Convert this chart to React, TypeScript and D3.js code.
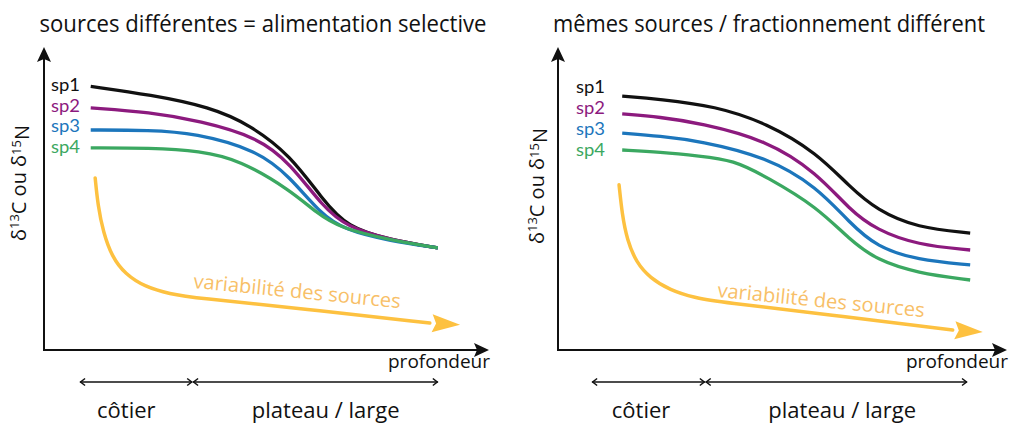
import React from "react";
import * as d3 from "d3";

// species and colours
const species = ["sp1", "sp2", "sp3", "sp4"];
const speciesColors = ["#111111", "#8c1a7e", "#1c76bc", "#3ba861"];

// isotope value (0-100) along depth (0-100)
const leftSp1 = [[10.5, 87], [24, 84.2], [37.3, 80.2], [46.3, 74.3], [55.3, 64.4], [62.7, 49.5], [68.1, 40.6], [77.8, 36.3], [88.5, 33.7]];
const leftSp2 = [[10.5, 79.9], [23.8, 78.5], [35.1, 75.6], [47.9, 70.3], [55.3, 61.7], [62.7, 47.2], [68.1, 40.6], [77.8, 36.3], [88.5, 33.7]];
const leftSp3 = [[10.5, 72.6], [23.8, 72.6], [33.9, 71.6], [47.9, 66], [55.3, 57.1], [62, 45.2], [67.6, 39.6], [77.8, 36], [88.5, 33.7]];
const leftSp4 = [[10.5, 66.7], [23.8, 66.7], [35.1, 65.7], [44, 62.7], [55.3, 52.8], [61.3, 45.2], [66.5, 40.3], [77.8, 36.3], [88.5, 33.7]];

const rightSp1 = [[14.3, 83.8], [22.7, 82.8], [35, 80.5], [46.5, 74.9], [57.7, 65], [65, 53.8], [71, 46.2], [80, 40.3], [91.8, 38.6]];
const rightSp2 = [[14.3, 77.9], [22.7, 76.9], [31.6, 74.9], [46.5, 69.3], [57.7, 58.4], [65, 46.2], [71, 39.6], [80, 34.7], [91.8, 33]];
const rightSp3 = [[14.3, 71.6], [22.7, 70.6], [31.6, 69], [46.5, 63.7], [57.7, 53.8], [65, 41.9], [71, 34], [80, 29.7], [91.8, 28.1]];
const rightSp4 = [[14.3, 66], [22.7, 65.3], [31.6, 64], [39, 62.7], [46.5, 57.1], [57.7, 47.2], [65, 36.3], [71, 29.7], [80, 25.4], [91.8, 23.1]];

// source variability arrow
const leftSources = [[11.5, 56.8], [12.1, 47.9], [13.3, 38.9], [15.3, 30.7], [18.2, 25.1], [22.7, 20.8], [28.3, 18.5], [33.9, 17.2], [58.7, 13.5], [86.7, 8.9]];
const leftSourcesTip = [93.5, 8.3];
const rightSources = [[13.6, 54.5], [14.3, 44.6], [15.4, 36.3], [17.4, 29], [20.5, 23.8], [24.9, 19.8], [30.5, 17.2], [36.1, 15.8], [60.6, 11.6], [87.9, 6.6]];
const rightSourcesTip = [94.6, 5.9];

// depth zones
const zoneLabels = ["côtier", "plateau / large"];
const leftZones = [[8.1, 33.3], [33.5, 88.5]];
const rightZones = [[7.6, 32.7], [32.9, 91.1]];
const zoneLabelX = [18.5, 63.3];

const FONT = "'Open Sans', 'Noto Sans', sans-serif";
const LABEL_FONT = "Lato, 'Open Sans', sans-serif";
const axisY = 350;
const axisTop = 47;

const panels = [
  {
    title: "sources différentes = alimentation selective",
    titleX: 263, titleLen: 447,
    x0: 44, w: 445,
    lines: [leftSp1, leftSp2, leftSp3, leftSp4],
    sources: leftSources, tip: leftSourcesTip,
    srcText: [33.5, 20.5],
    zones: leftZones,
    labelEnd: 80, labelTop: 91, labelStep: 20.5,
    yLabelX: 26, yLabelY: 183,
  },
  {
    title: "mêmes sources / fractionnement différent",
    titleX: 769, titleLen: 432,
    x0: 558, w: 449,
    lines: [rightSp1, rightSp2, rightSp3, rightSp4],
    sources: rightSources, tip: rightSourcesTip,
    srcText: [35.4, 17.5],
    zones: rightZones,
    labelEnd: 605, labelTop: 93, labelStep: 21,
    yLabelX: 544, yLabelY: 186,
  },
];

const Panel = ({ p }: { p: any }) => {
  const x = d3.scaleLinear().domain([0, 100]).range([p.x0, p.x0 + p.w]);
  const y = d3.scaleLinear().domain([0, 100]).range([axisY, axisTop]);
  const line = d3.line<number[]>()
    .x(d => x(d[0]))
    .y(d => y(d[1]))
    .curve(d3.curveBasis);

  // yellow arrow head
  const last = p.sources[p.sources.length - 1];
  const bx = x(last[0]), by = y(last[1]);
  const tx = x(p.tip[0]), ty = y(p.tip[1]);
  const len = Math.hypot(tx - bx, ty - by);
  const ux = (tx - bx) / len, uy = (ty - by) / len;
  const cx = tx - ux * 28, cy = ty - uy * 28;
  const head = `M${tx},${ty}L${cx - uy * 9},${cy + ux * 9}L${cx + ux * 4},${cy + uy * 4}L${cx + uy * 9},${cy - ux * 9}Z`;

  const xEnd = x(100);
  const srcAngle = 5.6;

  return (
    <g>
      <text x={p.titleX} y={32} textAnchor="middle" fontSize={23} fontFamily={FONT}
        textLength={p.titleLen} lengthAdjust="spacingAndGlyphs" fill="#111">{p.title}</text>

      {/* axes */}
      <line x1={p.x0} y1={axisY} x2={p.x0} y2={axisTop + 10} stroke="#111" strokeWidth={2} />
      <path d={`M${p.x0},${axisTop}L${p.x0 - 7},${axisTop + 15}L${p.x0},${axisTop + 12}L${p.x0 + 7},${axisTop + 15}Z`} fill="#111" />
      <line x1={p.x0 - 1} y1={axisY} x2={xEnd - 10} y2={axisY} stroke="#111" strokeWidth={2} />
      <path d={`M${xEnd},${axisY}L${xEnd - 15},${axisY - 7}L${xEnd - 12},${axisY}L${xEnd - 15},${axisY + 7}Z`} fill="#111" />

      <text transform={`translate(${p.yLabelX},${p.yLabelY}) rotate(-90)`} textAnchor="middle"
        fontSize={20} fontFamily={FONT} fill="#111">
        δ<tspan fontSize={13} dy="-0.55em">13</tspan>
        <tspan dy="0.36em">C ou δ</tspan>
        <tspan fontSize={13} dy="-0.36em">15</tspan>
        <tspan dy="0.36em">N</tspan>
      </text>

      <text x={xEnd + 1} y={368} textAnchor="end" fontSize={18} fontFamily={FONT} fill="#111"
        textLength={102} lengthAdjust="spacingAndGlyphs">profondeur</text>

      {/* sources */}
      <path d={line(p.sources) || ""} fill="none" stroke="#fdc140" strokeWidth={3.5} strokeLinecap="round" />
      <path d={head} fill="#fdc140" />
      <text transform={`translate(${x(p.srcText[0])},${y(p.srcText[1])}) rotate(${srcAngle})`}
        fontSize={20} fontFamily={FONT} fill="#f8bf68" textLength={208} lengthAdjust="spacingAndGlyphs">variabilité des sources</text>

      {/* species */}
      {p.lines.map((pts: number[][], i: number) => (
        <path key={i} d={line(pts) || ""} fill="none" stroke={speciesColors[i]} strokeWidth={3.3} />
      ))}
      {species.map((s, i) => (
        <text key={s} x={p.labelEnd} y={p.labelTop + i * p.labelStep} textAnchor="end"
          fontSize={17} fontFamily={LABEL_FONT} fill={speciesColors[i]}
          textLength={29} lengthAdjust="spacingAndGlyphs">{s}</text>
      ))}

      {/* zones */}
      {p.zones.map((z: number[], i: number) => {
        const a = x(z[0]), b = x(z[1]);
        return (
          <g key={i} stroke="#111" strokeWidth={1.5} fill="none">
            <line x1={a} y1={382} x2={b} y2={382} />
            <path d={`M${a + 5},${378.5}L${a + 0.5},${382}L${a + 5},${385.5}`} />
            <path d={`M${b - 5},${378.5}L${b - 0.5},${382}L${b - 5},${385.5}`} />
          </g>
        );
      })}
      {zoneLabels.map((z, i) => (
        <text key={z} x={x(zoneLabelX[i])} y={418} textAnchor="middle" fontSize={22} fontFamily={FONT} fill="#111">{z}</text>
      ))}
    </g>
  );
};

export default function App() {
  return (
    <svg width={1009} height={423} style={{ position: "absolute", left: 0, top: 0, background: "#fff" }}>
      <rect width={1009} height={423} fill="#fff" />
      {panels.map((p, i) => <Panel key={i} p={p} />)}
    </svg>
  );
}
